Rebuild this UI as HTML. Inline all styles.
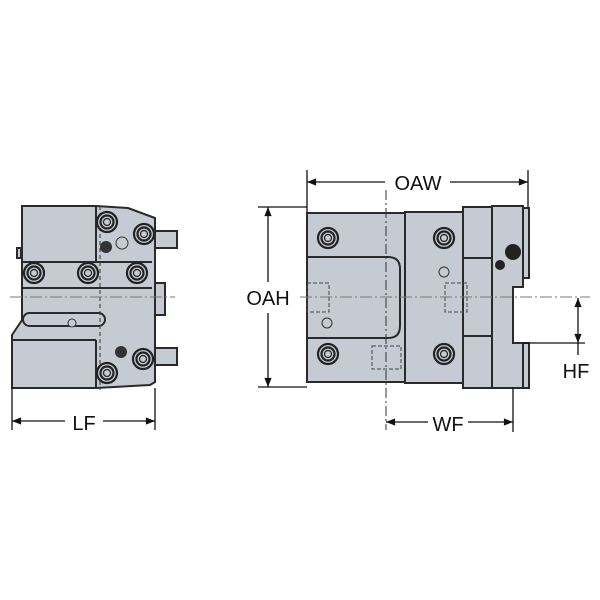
<!DOCTYPE html>
<html><head><style>body{margin:0;background:#fff}svg{display:block}text{font-family:"Liberation Sans",sans-serif;fill:#111}</style></head>
<body>
<svg width="600" height="600" viewBox="0 0 600 600" xmlns="http://www.w3.org/2000/svg">
<defs>
<marker id="a" viewBox="0 0 10 10" refX="10" refY="5" markerWidth="9" markerHeight="7" orient="auto-start-reverse"><path d="M0,1 L10,5 L0,9 z" fill="#111"/></marker>
<g id="bolt"><circle r="10" fill="#c5cad3" stroke="#222" stroke-width="2.2"/><circle r="6.5" fill="none" stroke="#222" stroke-width="2.2"/><circle r="3.5" fill="#c5cad3" stroke="#222" stroke-width="1.2"/></g>
</defs>
<g stroke="#2a2a2a" stroke-width="2" fill="#c5cad3">
<!-- LEFT VIEW -->
<path d="M22,206 H96 L128,208 L155,218 V382 L150,385 L96,388 H12 V335 L22,320 Z"/>
<line x1="22" y1="262" x2="152" y2="262"/>
<line x1="22" y1="288" x2="152" y2="288"/>
<line x1="12" y1="340" x2="96" y2="340"/>
<path d="M96,340 V388" fill="none"/>
<path d="M96,206 V262" fill="none"/>
<rect x="155" y="231" width="22" height="17"/>
<rect x="155" y="348" width="22" height="17"/>
<rect x="155" y="283" width="10" height="32"/>
<rect x="23" y="313" width="82" height="13" rx="6.5"/>
<rect x="17" y="248" width="4" height="10"/>
</g>
<line x1="100" y1="206" x2="100" y2="390" stroke="#333" stroke-dasharray="4,3"/>
<line x1="10" y1="297" x2="175" y2="297" stroke="#777" stroke-dasharray="12,3,2,3"/>
<use href="#bolt" x="107" y="222"/><use href="#bolt" x="144" y="234"/>
<use href="#bolt" x="34" y="273"/><use href="#bolt" x="88" y="273"/><use href="#bolt" x="137" y="273"/>
<use href="#bolt" x="107" y="373"/><use href="#bolt" x="143" y="359"/>
<circle cx="106" cy="247" r="6" fill="#333"/><circle cx="122" cy="243" r="6" fill="none" stroke="#333"/>
<circle cx="121" cy="352" r="6" fill="#333"/>
<circle cx="72" cy="323" r="4" fill="#c5cad3" stroke="#333"/>
<!-- RIGHT VIEW -->
<g stroke="#2a2a2a" stroke-width="2" fill="#c5cad3">
<rect x="307" y="213" width="98" height="169"/>
<rect x="405" y="212" width="58" height="171"/>
<rect x="463" y="207" width="29" height="181"/>
<path d="M492,206 H523 V287 H513 V343 H523 V388 H492 Z"/>
<rect x="523" y="208" width="6" height="70"/>
<rect x="523" y="343" width="6" height="45"/>
<path d="M307,257 H388 Q400,257 400,269 V326 Q400,338 388,338 H307" fill="none"/>
<line x1="463" y1="258" x2="492" y2="258"/><line x1="463" y1="336" x2="492" y2="336"/>
</g>
<g fill="none" stroke="#444" stroke-dasharray="4,2">
<rect x="307" y="283" width="22" height="29"/><rect x="372" y="346" width="29" height="23"/><rect x="445" y="283" width="22" height="29"/>
</g>
<line x1="386" y1="190" x2="386" y2="430" stroke="#333" stroke-dasharray="10,3,2,3"/>
<line x1="300" y1="297" x2="590" y2="297" stroke="#777" stroke-dasharray="12,3,2,3"/>
<use href="#bolt" x="328" y="238"/><use href="#bolt" x="444" y="238"/>
<use href="#bolt" x="328" y="354"/><use href="#bolt" x="444" y="354"/>
<circle cx="444" cy="272" r="5" fill="none" stroke="#333"/><circle cx="327" cy="323" r="5" fill="none" stroke="#333"/>
<circle cx="513" cy="252" r="8" fill="#222"/><circle cx="500" cy="265" r="5" fill="#222"/>
<!-- DIMENSIONS -->
<g stroke="#111" stroke-width="1.3" fill="none">
<line x1="307" y1="170" x2="307" y2="213"/><line x1="528" y1="170" x2="528" y2="207"/>
<line x1="307" y1="182" x2="385" y2="182" marker-start="url(#a)"/><line x1="450" y1="182" x2="528" y2="182" marker-end="url(#a)"/>
<line x1="258" y1="207" x2="307" y2="207"/><line x1="258" y1="387" x2="307" y2="387"/>
<line x1="268" y1="207" x2="268" y2="282" marker-start="url(#a)"/><line x1="268" y1="313" x2="268" y2="387" marker-end="url(#a)"/>
<line x1="12" y1="388" x2="12" y2="430"/><line x1="155" y1="388" x2="155" y2="430"/>
<line x1="12" y1="421" x2="65" y2="421" marker-start="url(#a)"/><line x1="103" y1="421" x2="155" y2="421" marker-end="url(#a)"/>
<line x1="513" y1="388" x2="513" y2="432"/>
<line x1="386" y1="422" x2="428" y2="422" marker-start="url(#a)"/><line x1="468" y1="422" x2="513" y2="422" marker-end="url(#a)"/>
<line x1="523" y1="343" x2="585" y2="343"/>
<line x1="578" y1="298" x2="578" y2="343" marker-start="url(#a)" marker-end="url(#a)"/>
<line x1="578" y1="343" x2="578" y2="355"/>
</g>
<text x="418" y="190" font-size="20" text-anchor="middle">OAW</text>
<text x="268" y="305" font-size="20" text-anchor="middle">OAH</text>
<text x="84" y="430" font-size="20" text-anchor="middle">LF</text>
<text x="448" y="431" font-size="20" text-anchor="middle">WF</text>
<text x="576" y="378" font-size="20" text-anchor="middle">HF</text>
</svg>
</body></html>
